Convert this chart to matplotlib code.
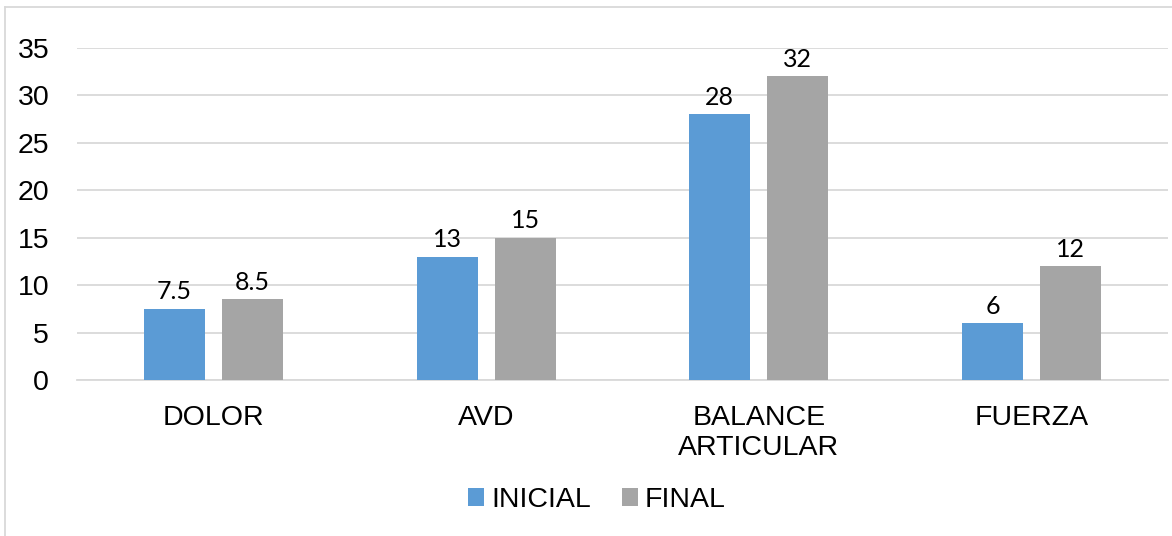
import matplotlib
matplotlib.use("Agg")
import matplotlib.pyplot as plt
import numpy as np
from matplotlib.lines import Line2D

categories = ["DOLOR", "AVD", "BALANCE\nARTICULAR", "FUERZA"]
inicial = [7.5, 13, 28, 6]
final = [8.5, 15, 32, 12]
series_names = ["INICIAL", "FINAL"]
yticks = [0, 5, 10, 15, 20, 25, 30, 35]

W, H = 1172, 536
fig = plt.figure(figsize=(W / 100, H / 100), dpi=100)
ax = fig.add_axes([77 / W, (H - 380) / H, (1168 - 77) / W, (380 - 48) / H])

blue = "#5B9BD5"
gray = "#A5A5A5"
x = np.arange(len(categories))
bw = 0.223
off = 0.143

b1 = ax.bar(x - off, inicial, bw, color=blue, zorder=3, label=series_names[0])
b2 = ax.bar(x + off, final, bw, color=gray, zorder=3, label=series_names[1])

for bars, vals in ((b1, inicial), (b2, final)):
    for r, v in zip(bars, vals):
        lab = f"{v:g}"
        ax.annotate(lab, (r.get_x() + r.get_width() / 2, r.get_height()),
                    xytext=(0, 4), textcoords="offset points",
                    ha="center", va="bottom", fontsize=18,
                    family=["Lato", "DejaVu Sans"], color="black", zorder=4)

ax.set_xlim(-0.5, len(categories) - 0.5)
ax.set_ylim(0, 35)
ax.set_yticks(yticks)
ax.set_yticklabels([str(t) for t in yticks], family="Liberation Sans", fontsize=20.5)
ax.set_xticks(x)
ax.set_xticklabels(categories, family="Liberation Sans", fontsize=20.5,
                   linespacing=1.22, va="top")
ax.tick_params(axis="both", length=0)
ax.tick_params(axis="y", pad=20)
ax.tick_params(axis="x", pad=18)
ax.yaxis.grid(True, color="#D9D9D9", lw=1.3, zorder=0)
ax.set_axisbelow(True)
for s in ["top", "right", "left"]:
    ax.spines[s].set_visible(False)
ax.spines["bottom"].set_color("#D9D9D9")
ax.spines["bottom"].set_linewidth(1.3)

leg = fig.legend(handles=[b1, b2], labels=series_names, loc="center",
                 bbox_to_anchor=(597 / W, 1 - 500 / H), ncol=2, frameon=False,
                 prop={"family": "Liberation Sans", "size": 20.5},
                 handlelength=0.55, handleheight=0.55, handletextpad=0.25,
                 columnspacing=1.1)

# figure border (left and top)
fig.add_artist(Line2D([4.5 / W, 4.5 / W], [0, 1 - 7 / H], transform=fig.transFigure,
                      color="#D9D9D9", lw=1.3))
fig.add_artist(Line2D([4.5 / W, 1], [1 - 7 / H, 1 - 7 / H], transform=fig.transFigure,
                      color="#D9D9D9", lw=1.3))

fig.savefig("out.png", dpi=100)
